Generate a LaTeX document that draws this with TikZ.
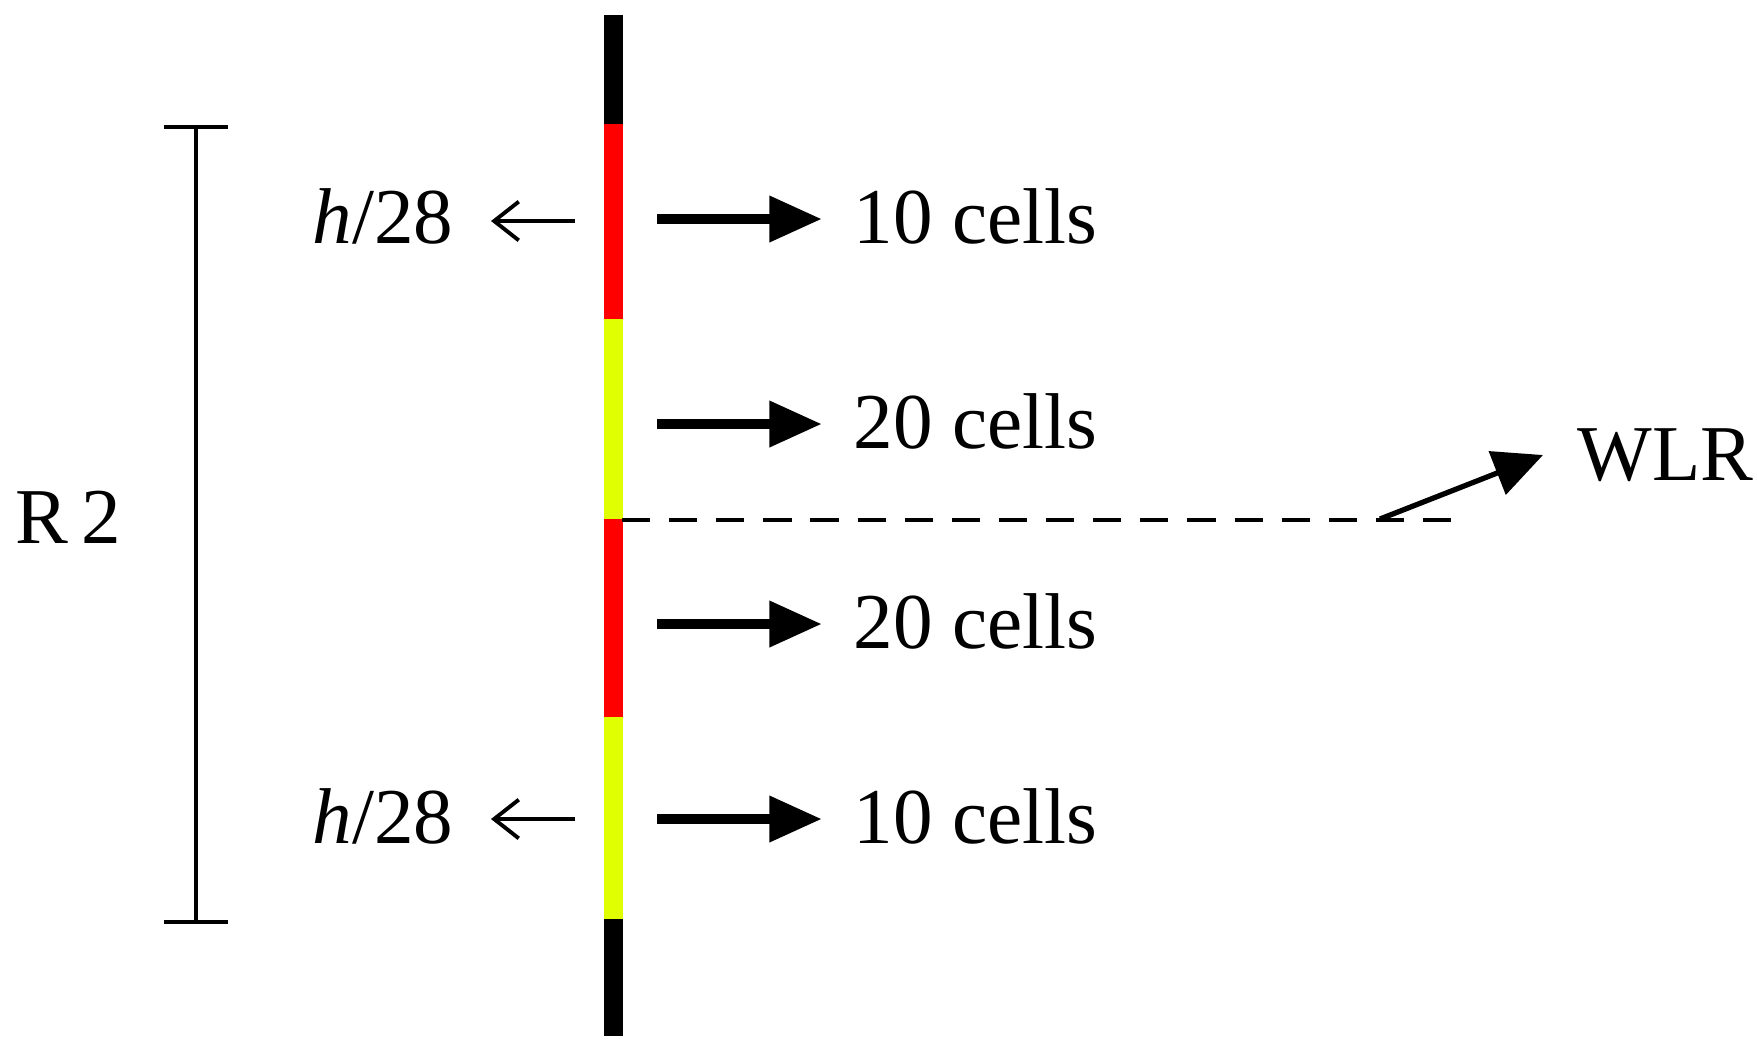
\documentclass[tikz,border=0pt]{standalone}
\usepackage{fontspec}
\setmainfont{Liberation Serif}
\usetikzlibrary{arrows.meta}
\definecolor{barred}{RGB}{255,0,0}
\definecolor{baryel}{RGB}{224,255,0}
\begin{document}
\begin{tikzpicture}[x=0.01cm,y=-0.01cm,
  lbl/.style={font=\fontsize{22.5}{25}\selectfont, inner sep=0pt},
  seg/.style={line width=5.4pt},
  bigarrow/.style={line width=3pt,-{Triangle[length=15pt,width=12.5pt]}},
  thinarrow/.style={line width=1.1pt,-{Straight Barb[length=7pt,width=11pt]}},
  bracket/.style={line width=1.3pt},
  ]
\useasboundingbox (0,0) rectangle (1757,1053);
% bar
\coordinate (p0) at (613,15);
\coordinate (p1) at (613,124);
\coordinate (p2) at (613,319);
\coordinate (p3) at (613,519);
\coordinate (p4) at (613,717);
\coordinate (p5) at (613,919);
\coordinate (p6) at (613,1036);
\draw[seg,black] (p0) -- (p1);
\draw[seg,barred] (p1) -- (p2);
\draw[seg,baryel] (p2) -- (p3);
\draw[seg,barred] (p3) -- (p4);
\draw[seg,baryel] (p4) -- (p5);
\draw[seg,black] (p5) -- (p6);
% bracket R2
\coordinate (bt) at (196,127);
\coordinate (bb) at (196,922);
\coordinate (btl) at (164,127);
\coordinate (btr) at (228,127);
\coordinate (bbl) at (164,922);
\coordinate (bbr) at (228,922);
\draw[bracket] (bt) -- (bb);
\draw[bracket] (btl) -- (btr);
\draw[bracket] (bbl) -- (bbr);
\node[lbl,anchor=base west] (r2) at (15,543) {R\,2};
% right arrows and labels
\coordinate (a1) at (657,219);
\coordinate (a2) at (657,424);
\coordinate (a3) at (657,624);
\coordinate (a4) at (657,819);
\node[lbl,anchor=base west] (c1) at (853,243) {10 cells};
\node[lbl,anchor=base west] (c2) at (853,448) {20 cells};
\node[lbl,anchor=base west] (c3) at (853,648) {20 cells};
\node[lbl,anchor=base west] (c4) at (853,843) {10 cells};
\coordinate (t1) at (822,219);
\coordinate (t2) at (822,424);
\coordinate (t3) at (822,624);
\coordinate (t4) at (822,819);
\draw[bigarrow] (a1) -- (t1);
\draw[bigarrow] (a2) -- (t2);
\draw[bigarrow] (a3) -- (t3);
\draw[bigarrow] (a4) -- (t4);
% left arrows and labels
\node[lbl,anchor=base east] (h1) at (454,243) {\textit{h}/28};
\node[lbl,anchor=base east] (h2) at (454,843) {\textit{h}/28};
\coordinate (l1) at (575,221);
\coordinate (l2) at (575,819);
\coordinate (m1) at (491,221);
\coordinate (m2) at (491,819);
\draw[thinarrow] (l1) -- (m1);
\draw[thinarrow] (l2) -- (m2);
% dashed line and WLR
\coordinate (d1) at (622,520);
\coordinate (d2) at (1452,520);
\draw[line width=1.2pt,dash pattern=on 8pt off 5.4pt] (d1) -- (d2);
\coordinate (w0) at (1380,519);
\coordinate (w1) at (1543,455);
\draw[line width=1.5pt,-{Triangle[length=14pt,width=13pt]}] (w0) -- (w1);
\node[lbl,anchor=base west] (wlr) at (1577,480) {WLR};
\end{tikzpicture}
\end{document}
